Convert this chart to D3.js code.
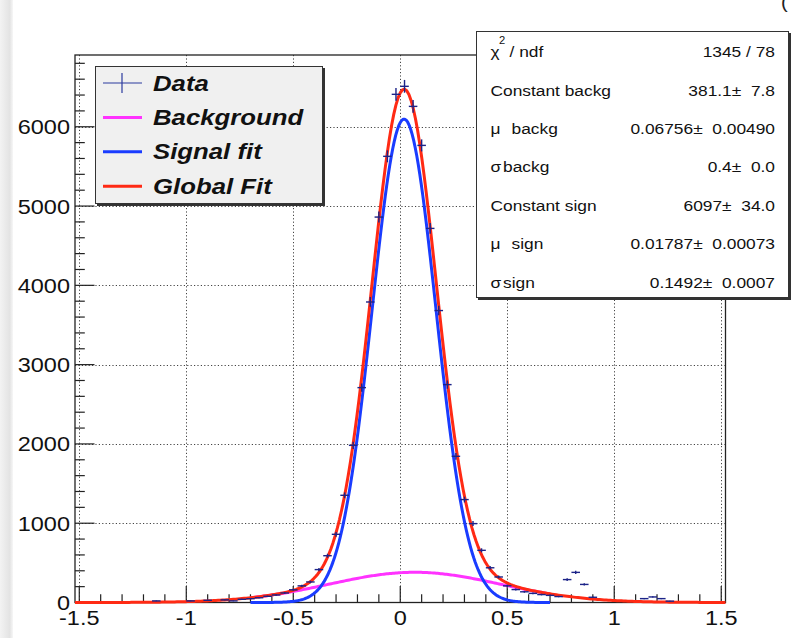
<!DOCTYPE html>
<html>
<head>
<meta charset="utf-8">
<script src="https://cdn.jsdelivr.net/npm/d3@7"></script>
<style>
  html, body { margin: 0; padding: 0; background: #fff; }
  svg { display: block; }
</style>
</head>
<body>
<svg id="chart" width="793" height="638"></svg>
<script>
// ---- histogram binning and contents ----
const binWidth = 0.04;
const histRange = [-1.52, 1.52];
const counts = [
  0, 0, 0, 0, 0, 0, 0, 0, 0, 20,        // -1.50 .. -1.14
  0, 0, 0, 20, 0, 28, 0, 33, 20, 40,    // -1.10 .. -0.74
  48, 60, 78, 95, 120, 160, 210, 259, 415, 590,   // -0.70 .. -0.34
  860, 1352, 1982, 2710, 3790, 4861, 5627, 6409,  // -0.30 .. -0.02
  6510, 6257, 5765, 4718, 3682, 2748, 1844, 1298, // 0.02 .. 0.30
  995, 658, 438, 322, 210, 163, 135, 115, 100, 90, // 0.34 .. 0.70
  75, 289, 380, 228, 66, 0, 0, 0, 0, 0,            // 0.74 .. 1.10
  49, 70, 49, 17, 0, 0, 0, 0, 0, 0                 // 1.14 .. 1.50
];

// ---- fit parameters (constant, mean, sigma) ----
const bkgPar = [381.1, 0.06756, 0.4];
const sigPar = [6097, 0.01787, 0.1492];
const partialRange = [-0.7, 0.7];

// ---- axes ----
const xMajor = [-1.5, -1, -0.5, 0, 0.5, 1, 1.5];
const xMajorLabels = ["-1.5", "-1", "-0.5", "0", "0.5", "1", "1.5"];
const xMinor = d3.range(-15, 16).map(d => d / 10);
const yMajor = [0, 1000, 2000, 3000, 4000, 5000, 6000];
const yMajorLabels = ["0", "1000", "2000", "3000", "4000", "5000", "6000"];
const yMinor = d3.range(0, 6900, 200);
const yMax = 6905;

// ---- legend and statistics box ----
const legendLabels = ["Data", "Background", "Signal fit", "Global Fit"];
const legendColors = ["#2a3a9e", "#ff33ff", "#1a3cff", "#ff2a14"];
const statNames = [["\u03c7", "/ ndf"], ["", "Constant backg"], ["\u03bc", "backg"], ["\u03c3", "backg"],
                   ["", "Constant sign"], ["\u03bc", "sign"], ["\u03c3", "sign"]];
const statValues = ["1345 / 78", "381.1\u00b1  7.8", "0.06756\u00b1  0.00490", "0.4\u00b1  0.0",
                    "6097\u00b1  34.0", "0.01787\u00b1  0.00073", "0.1492\u00b1  0.0007"];

const FONT = "'Liberation Sans', Arial, Helvetica, sans-serif";
const SX = 1.12;   // horizontal stretch of all text

const svg = d3.select("#chart");

// soft grey strip along the left edge
const defs = svg.append("defs");
const grad = defs.append("linearGradient").attr("id", "edge").attr("x1", 0).attr("x2", 1);
grad.append("stop").attr("offset", 0).attr("stop-color", "#f3f3f3");
grad.append("stop").attr("offset", 0.75).attr("stop-color", "#e3e3e3");
grad.append("stop").attr("offset", 1).attr("stop-color", "#f7f7f7");
svg.append("rect").attr("x", 0).attr("y", 0).attr("width", 13).attr("height", 638).attr("fill", "url(#edge)");

const x = d3.scaleLinear().domain(histRange).range([75, 725.5]);
const y = d3.scaleLinear().domain([0, yMax]).range([602.5, 55]);

function sText(parent, px, py, str, size, anchor, extra) {
  const t = parent.append("text")
    .attr("transform", `translate(${px},${py}) scale(${SX},1)`)
    .attr("text-anchor", anchor || "start")
    .attr("font-family", FONT)
    .attr("font-size", size)
    .attr("fill", "#111")
    .text(str);
  if (extra) Object.entries(extra).forEach(([k, v]) => t.attr(k, v));
  return t;
}

// ---- grid ----
const grid = svg.append("g").attr("stroke", "#444").attr("stroke-width", 1)
  .attr("stroke-dasharray", "1.2,2.2").attr("fill", "none");
xMajor.forEach(v => grid.append("line")
  .attr("x1", Math.round(x(v)) + 0.5).attr("x2", Math.round(x(v)) + 0.5)
  .attr("y1", y(yMax)).attr("y2", y(0)));
yMajor.filter(v => v > 0).forEach(v => grid.append("line")
  .attr("x1", x(histRange[0])).attr("x2", x(histRange[1]))
  .attr("y1", Math.round(y(v)) + 0.5).attr("y2", Math.round(y(v)) + 0.5));

// ---- axis ticks ----
const ticks = svg.append("g").attr("stroke", "#222").attr("stroke-width", 1.2);
xMinor.forEach(v => {
  const major = xMajor.some(m => Math.abs(m - v) < 1e-9);
  const len = major ? 16.4 : 8.2;
  ticks.append("line").attr("x1", x(v)).attr("x2", x(v)).attr("y1", y(0)).attr("y2", y(0) - len);
});
yMinor.forEach(v => {
  const major = v % 1000 === 0;
  const len = major ? 19.5 : 9.8;
  ticks.append("line").attr("x1", x(histRange[0])).attr("x2", x(histRange[0]) + len)
    .attr("y1", y(v)).attr("y2", y(v));
});

// ---- frame ----
svg.append("rect")
  .attr("x", x(histRange[0])).attr("y", y(yMax))
  .attr("width", x(histRange[1]) - x(histRange[0])).attr("height", y(0) - y(yMax))
  .attr("fill", "none").attr("stroke", "#222").attr("stroke-width", 1.3);

// ---- tick labels ----
xMajor.forEach((v, i) => sText(svg, x(v), 625, xMajorLabels[i], 21, "middle"));
yMajor.forEach((v, i) => sText(svg, 70, y(v) + 7.5, yMajorLabels[i], 21, "end"));

// ---- fit functions ----
const gaus = (p, v) => p[0] * Math.exp(-0.5 * Math.pow((v - p[1]) / p[2], 2));
const curve = d3.line().x(d => x(d[0])).y(d => y(d[1]));
function sample(lo, hi, n, f) {
  return d3.range(n + 1).map(i => { const v = lo + (hi - lo) * i / n; return [v, f(v)]; });
}
const plot = svg.append("g").attr("fill", "none").attr("stroke-width", 3)
  .attr("stroke-linejoin", "round");
plot.append("path").attr("d", curve(sample(partialRange[0], partialRange[1], 200, v => gaus(bkgPar, v))))
  .attr("stroke", legendColors[1]);
plot.append("path").attr("d", curve(sample(partialRange[0], partialRange[1], 200, v => gaus(sigPar, v))))
  .attr("stroke", legendColors[2]);
plot.append("path").attr("d", curve(sample(histRange[0], histRange[1], 300, v => gaus(bkgPar, v) + gaus(sigPar, v))))
  .attr("stroke", legendColors[3]);

// ---- data points with errors ----
const pts = counts.map((c, i) => ({ xc: histRange[0] + binWidth * (i + 0.5), c }))
  .filter(d => d.c > 0);
const dg = svg.append("g").attr("stroke", "#1c2388").attr("stroke-width", 1.4);
pts.forEach(d => {
  dg.append("line").attr("x1", x(d.xc - binWidth / 2)).attr("x2", x(d.xc + binWidth / 2))
    .attr("y1", y(d.c)).attr("y2", y(d.c));
  const e = Math.sqrt(d.c);
  dg.append("line").attr("x1", x(d.xc)).attr("x2", x(d.xc))
    .attr("y1", y(d.c + e)).attr("y2", y(Math.max(0, d.c - e)));
});

// ---- legend ----
const lg = svg.append("g");
lg.append("rect").attr("x", 97).attr("y", 68).attr("width", 228).attr("height", 138).attr("fill", "#333");
lg.append("rect").attr("x", 95.5).attr("y", 66.5).attr("width", 227).attr("height", 137)
  .attr("fill", "#f0f0f0").attr("stroke", "#333").attr("stroke-width", 1);
legendLabels.forEach((lab, i) => {
  const base = 90.5 + 34.4 * i;
  const ly = base - 7.5;
  lg.append("line").attr("x1", 103).attr("x2", 142).attr("y1", ly).attr("y2", ly)
    .attr("stroke", legendColors[i]).attr("stroke-width", i === 0 ? 1.2 : 3);
  if (i === 0) {
    lg.append("line").attr("x1", 122).attr("x2", 122).attr("y1", ly - 10).attr("y2", ly + 10)
      .attr("stroke", legendColors[0]).attr("stroke-width", 1.2);
  }
  sText(lg, 153, base, lab, 23, "start", { "font-weight": "bold", "font-style": "italic" });
});

// ---- statistics box ----
const sb = svg.append("g");
sb.append("rect").attr("x", 478).attr("y", 33).attr("width", 313).attr("height", 267).attr("fill", "#333");
sb.append("rect").attr("x", 476.5).attr("y", 31.5).attr("width", 312).attr("height", 266)
  .attr("fill", "#fff").attr("stroke", "#333").attr("stroke-width", 1);
statNames.forEach((nm, i) => {
  const base = 57.2 + 38.4 * i;
  if (nm[0] === "\u03c7") {
    sText(sb, 490.5, base, nm[0], 15.5);
    sText(sb, 499, base - 13, "2", 10);
    sText(sb, 509.5, base, nm[1], 15.5);
  } else if (nm[0] === "\u03bc") {
    sText(sb, 490.5, base, nm[0], 15.5);
    sText(sb, 511.5, base, nm[1], 15.5);
  } else if (nm[0] === "\u03c3") {
    sText(sb, 490.5, base, nm[0], 15.5);
    sText(sb, 503, base, nm[1], 15.5);
  } else {
    sText(sb, 490.5, base, nm[1], 15.5);
  }
  sText(sb, 775, base, statValues[i], 15.5, "end", { "xml:space": "preserve" });
});

// clipped title glyph at the top right
sText(svg, 781, 8, "(", 18, "start", { fill: "#222" });
</script>
</body>
</html>
